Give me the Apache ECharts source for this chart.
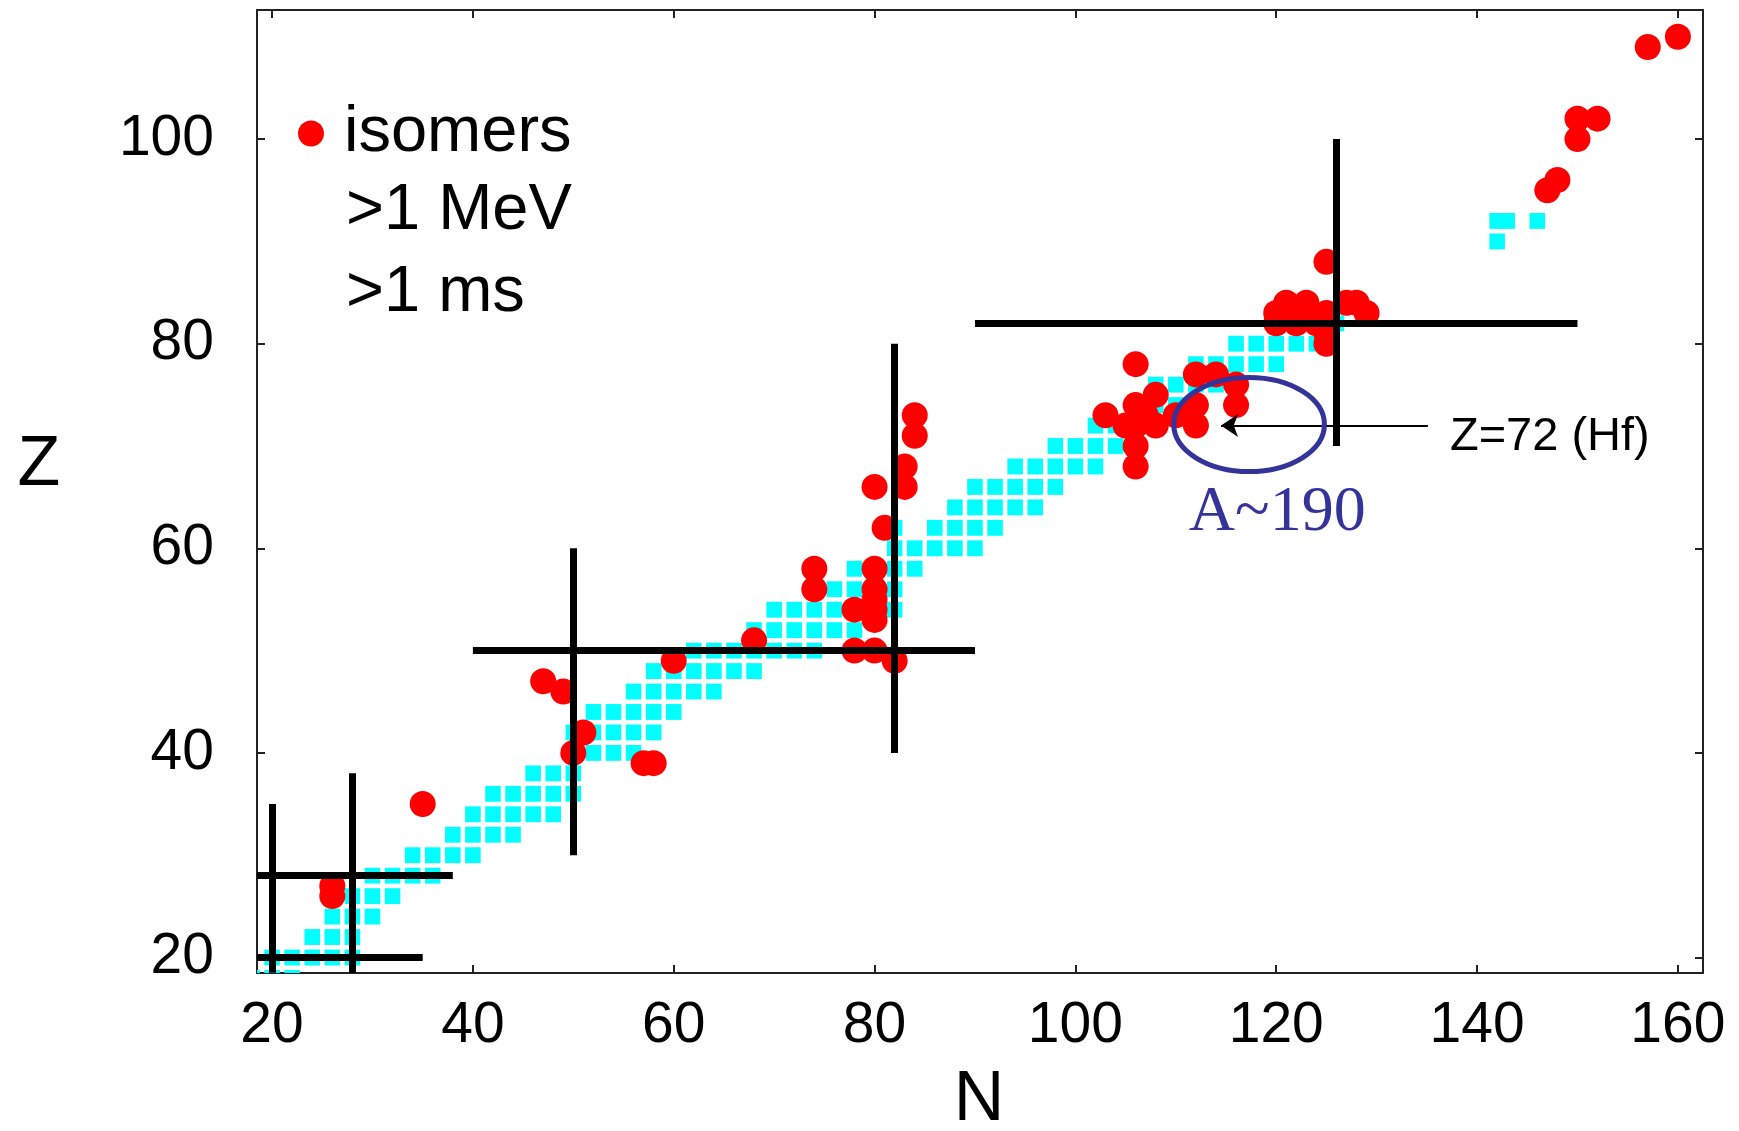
<!DOCTYPE html>
<html>
<head>
<meta charset="utf-8">
<title>Isomers on the N-Z plane</title>
<script src="https://cdn.jsdelivr.net/npm/echarts@6/dist/echarts.min.js"></script>
<style>
  html, body { margin: 0; padding: 0; background: #fff; }
  #main { width: 1739px; height: 1131px; }
</style>
</head>
<body>
<div id="main"></div>
<script>
// tick labels
var nTicks = [20, 40, 60, 80, 100, 120, 140, 160];
var zTicks = [20, 40, 60, 80, 100];

// stable nuclei (cyan squares), one row of N values per Z
var stableZ = [18, 20, 22, 24, 26, 28, 30, 32, 34, 36, 38, 40, 42, 44, 46, 48, 50, 52, 54, 56,
               58, 60, 62, 64, 66, 68, 70, 72, 74, 76, 78, 80, 82, 90, 92];
var stableN = [
  [18, 20, 22], [20, 22, 24, 26, 28], [24, 26, 28], [26, 28, 30], [28, 30, 32],
  [30, 32, 34, 36], [34, 36, 38, 40], [38, 40, 42, 44], [40, 42, 44, 46, 48], [42, 44, 46, 48, 50],
  [46, 48, 50], [50, 52, 54, 56], [50, 52, 54, 56, 58], [52, 54, 56, 58, 60], [56, 58, 60, 62, 64],
  [58, 60, 62, 64, 66, 68], [62, 64, 66, 68, 70, 72, 74], [68, 70, 72, 74, 76, 78],
  [70, 72, 74, 76, 78, 80, 82], [74, 76, 78, 80, 82], [78, 80, 82, 84], [82, 84, 86, 88, 90],
  [82, 86, 88, 90, 92], [88, 90, 92, 94, 96], [90, 92, 94, 96, 98], [94, 96, 98, 100, 102],
  [98, 100, 102, 104, 106], [102, 104, 106, 108], [106, 108, 110, 112], [108, 110, 112, 114, 116],
  [112, 114, 116, 118, 120], [116, 118, 120, 122, 124], [122, 124, 126], [142], [142, 143, 146]
];

// isomers >1 MeV, >1 ms (red dots)
var isomerN = [26, 26, 35, 47, 49, 50, 51, 57, 58, 60, 68,
  74, 74, 78, 78, 80, 80, 80, 80, 80, 80, 82,
  80, 81, 83, 83, 84, 84,
  103, 105, 106, 106, 106, 106, 106, 107, 108, 108, 110, 112, 112, 112, 114, 116, 116,
  121, 123, 127, 128, 120, 125, 129, 120, 122, 124, 125, 125, 125,
  147, 148, 150, 150, 152, 157, 160];
var isomerZ = [26, 27, 35, 47, 46, 40, 42, 39, 39, 49, 51,
  56, 58, 50, 54, 50, 53, 54, 55, 56, 58, 49,
  66, 62, 66, 68, 71, 73,
  73, 72, 68, 70, 72, 74, 78, 73, 72, 75, 73, 72, 74, 77, 77, 74, 76,
  84, 84, 84, 84, 83, 83, 83, 82, 82, 82, 81, 80, 88,
  95, 96, 100, 102, 102, 109, 110];

// magic number lines
var magicV = [[20, 18.5, 35], [28, 18.5, 38], [50, 30, 60], [82, 40, 80], [126, 70, 100]]; // N, Z from, Z to
var magicH = [[20, 18.5, 35], [28, 18.5, 38], [50, 40, 90], [82, 90, 150]];                // Z, N from, N to

// A~190 annotation
var hfArrow = [[135.1, 72.0], [114.5, 72.0]];
var hfLabel = [137.3, 70.9];
var a190Ellipse = [117.3, 72.1, 7.5, 4.6];
var a190Label = [120.1, 63.4];

var FONT = "'Liberation Sans', Arial, sans-serif";

var stablePts = [];
stableZ.forEach(function (z, i) {
  stableN[i].forEach(function (n) { stablePts.push([n, z]); });
});
var isomerPts = isomerN.map(function (n, i) { return [n, isomerZ[i]]; });
var magicSegs = [];
magicV.forEach(function (v) { magicSegs.push({ coords: [[v[0], v[1]], [v[0], v[2]]] }); });
magicH.forEach(function (h) { magicSegs.push({ coords: [[h[1], h[0]], [h[2], h[0]]] }); });

var axisLine = { show: true, onZero: false, lineStyle: { color: '#222', width: 2 } };
function tick(vals) {
  return { show: true, inside: true, length: 8, customValues: vals, lineStyle: { color: '#222', width: 2 } };
}

var chart = echarts.init(document.getElementById('main'));
chart.setOption({
  animation: false,
  backgroundColor: '#fff',
  grid: { left: 257, right: 36, top: 10, bottom: 158, containLabel: false, outerBoundsMode: 'none' },
  legend: {
    data: ['isomers'], left: 293, top: 96, icon: 'circle', itemWidth: 56, itemHeight: 26,
    selectedMode: false, textStyle: { fontSize: 65, color: '#000', fontFamily: FONT }
  },
  graphic: [
    { type: 'text', x: 346, y: 211, style: { text: '>1 MeV', font: '65px ' + FONT, fill: '#000', verticalAlign: 'middle' } },
    { type: 'text', x: 346, y: 293, style: { text: '>1 ms', font: '65px ' + FONT, fill: '#000', verticalAlign: 'middle' } },
    // axis titles
    { type: 'text', x: 39, y: 466, style: { text: 'Z', font: '70px ' + FONT, fill: '#000', align: 'center', verticalAlign: 'middle' } },
    { type: 'text', x: 979, y: 1101, style: { text: 'N', font: '70px ' + FONT, fill: '#000', align: 'center', verticalAlign: 'middle' } }
  ],
  xAxis: [
    {
      type: 'value', min: 18.5, max: 162.5, position: 'bottom',
      axisLine: axisLine, axisTick: tick(nTicks), splitLine: { show: false },
      axisLabel: { customValues: nTicks, fontSize: 57, color: '#000', fontFamily: FONT, margin: 25 }
    },
    {
      type: 'value', min: 18.5, max: 162.5, position: 'top',
      axisLine: axisLine, axisTick: tick(nTicks), splitLine: { show: false }, axisLabel: { show: false }
    }
  ],
  yAxis: [
    {
      type: 'value', min: 18.485, max: 112.62, position: 'left',
      axisLine: axisLine, axisTick: tick(zTicks), splitLine: { show: false },
      axisLabel: { customValues: zTicks, fontSize: 57, color: '#000', fontFamily: FONT, margin: 43 }
    },
    {
      type: 'value', min: 18.485, max: 112.62, position: 'right',
      axisLine: axisLine, axisTick: tick(zTicks), splitLine: { show: false }, axisLabel: { show: false }
    }
  ],
  series: [
    {
      name: 'stable', type: 'custom', data: stablePts, z: 1,
      encode: { x: 0, y: 1 },
      renderItem: function (params, api) {
        var p = api.coord([api.value(0), api.value(1)]);
        var s = api.size([1.55, 1.55]);
        var cs = params.coordSys;
        var r = echarts.graphic.clipRectByRect(
          { x: p[0] - s[0] / 2, y: p[1] - s[1] / 2, width: s[0], height: s[1] },
          { x: cs.x, y: cs.y, width: cs.width, height: cs.height });
        return r && { type: 'rect', shape: r, style: { fill: '#00ffff' } };
      }
    },
    {
      name: 'isomers', type: 'scatter', data: isomerPts, z: 2,
      symbol: 'circle', symbolSize: 26, itemStyle: { color: '#ff0000', opacity: 1 }
    },
    {
      name: 'magic', type: 'lines', coordinateSystem: 'cartesian2d', data: magicSegs, z: 3,
      lineStyle: { color: '#000', width: 7, opacity: 1 }
    },
    {
      name: 'arrow', type: 'lines', coordinateSystem: 'cartesian2d', z: 4,
      data: [{ coords: hfArrow }], symbol: ['none', 'arrow'], symbolSize: 17,
      lineStyle: { color: '#000', width: 2, opacity: 1 }
    },
    {
      name: 'A190', type: 'custom', data: [[a190Ellipse[0], a190Ellipse[1]]], z: 5,
      renderItem: function (params, api) {
        var c = api.coord([a190Ellipse[0], a190Ellipse[1]]);
        var r = api.size([a190Ellipse[2], a190Ellipse[3]]);
        var t1 = api.coord(hfLabel);
        var t2 = api.coord(a190Label);
        return {
          type: 'group', children: [
            { type: 'ellipse', shape: { cx: c[0], cy: c[1], rx: r[0], ry: r[1] },
              style: { fill: 'none', stroke: '#333399', lineWidth: 5 } },
            { type: 'text', x: t1[0], y: t1[1],
              style: { text: 'Z=72 (Hf)', font: '47px ' + FONT, fill: '#000', align: 'left', verticalAlign: 'middle' } },
            { type: 'text', x: t2[0], y: t2[1],
              style: { text: 'A~190', font: "64px 'Liberation Serif', 'Times New Roman', serif", fill: '#333399', align: 'center', verticalAlign: 'middle' } }
          ]
        };
      }
    }
  ]
});
</script>
</body>
</html>
